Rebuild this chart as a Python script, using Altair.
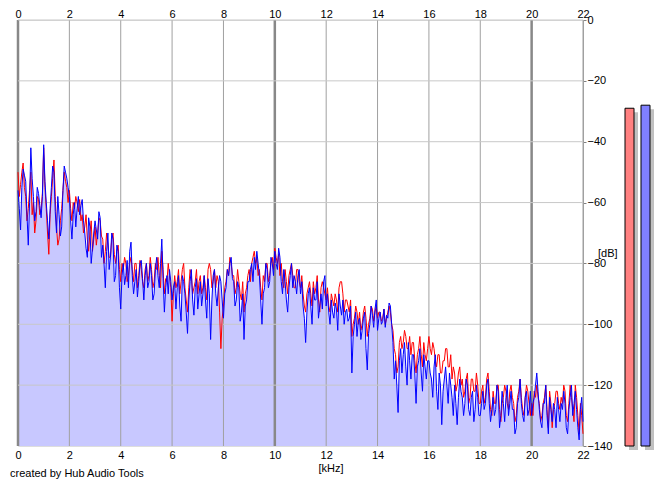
import altair as alt
import pandas as pd

# spectrum values in dB, one per 0.05 kHz bin (0.00 .. 22.00 kHz)
blue_db = (
    [-56, -62, -69, -55, -49, -51, -53, -64, -74, -60, -42, -52, -58, -66, -63, -55, -57, -61, -65, -58] +
    [-41, -53, -60, -66, -72, -62, -55, -48, -50, -63, -70, -58, -64, -71, -68, -56, -48, -50, -52, -55] +
    [-58, -66, -72, -64, -60, -68, -62, -58, -64, -61, -59, -66, -70, -75, -78, -65, -68, -80, -75, -70] +
    [-66, -69, -72, -63, -65, -78, -74, -80, -88, -76, -70, -82, -78, -70, -72, -86, -84, -74, -76, -88] +
    [-95, -84, -80, -87, -84, -79, -88, -76, -73, -84, -90, -86, -82, -91, -86, -80, -79, -85, -92, -84] +
    [-80, -88, -86, -80, -84, -92, -90, -82, -78, -84, -88, -80, -72, -85, -96, -88, -84, -90, -82, -86] +
    [-92, -88, -86, -95, -88, -84, -94, -99, -84, -86, -90, -96, -103, -92, -86, -82, -92, -97, -88, -85] +
    [-95, -90, -86, -94, -90, -84, -92, -98, -85, -90, -105, -92, -84, -82, -90, -94, -88, -84, -86, -92] +
    [-98, -90, -88, -82, -84, -80, -78, -85, -86, -94, -92, -86, -88, -99, -96, -90, -105, -94, -92, -86] +
    [-86, -82, -80, -86, -78, -82, -76, -80, -84, -92, -100, -90, -88, -80, -82, -88, -86, -78, -80, -84] +
    [-76, -80, -82, -75, -78, -86, -90, -82, -86, -92, -96, -88, -84, -80, -88, -84, -86, -90, -84, -82] +
    [-90, -86, -94, -98, -106, -96, -90, -88, -94, -100, -88, -92, -92, -86, -98, -94, -90, -95, -86, -84] +
    [-94, -90, -96, -100, -92, -96, -98, -93, -95, -102, -90, -94, -97, -92, -100, -96, -95, -99, -98, -94] +
    [-116, -104, -100, -96, -104, -99, -98, -105, -102, -98, -96, -108, -115, -103, -100, -94, -97, -101, -95, -92] +
    [-102, -98, -96, -100, -99, -95, -101, -97, -98, -93, -94, -100, -106, -118, -112, -120, -129, -112, -108, -116] +
    [-110, -106, -114, -120, -106, -112, -118, -110, -110, -116, -126, -114, -112, -108, -116, -122, -110, -114, -118, -112] +
    [-112, -116, -118, -124, -114, -110, -122, -128, -116, -120, -133, -122, -118, -114, -120, -126, -116, -120, -124, -130] +
    [-120, -126, -133, -124, -118, -122, -124, -130, -126, -118, -120, -128, -130, -124, -122, -132, -128, -120, -124, -130] +
    [-130, -126, -122, -128, -126, -120, -118, -126, -132, -128, -124, -130, -128, -120, -122, -134, -130, -122, -126, -132] +
    [-124, -120, -130, -126, -122, -128, -128, -136, -134, -126, -124, -118, -126, -130, -132, -124, -122, -130, -128, -122] +
    [-130, -126, -124, -120, -116, -122, -128, -132, -134, -126, -126, -120, -130, -136, -124, -128, -132, -126, -128, -134] +
    [-124, -128, -132, -126, -128, -122, -126, -134, -136, -128, -124, -120, -130, -126, -122, -128, -134, -138, -128, -124] +
    [-132]
)

red_db = (
    [-50, -58, -54, -50, -47, -55, -58, -66, -62, -56, -50, -64, -60, -70, -66, -58, -59, -64, -62, -57] +
    [-42, -55, -62, -70, -77, -64, -58, -52, -46, -58, -68, -74, -72, -66, -62, -56, -50, -53, -55, -60] +
    [-56, -62, -66, -60, -62, -58, -60, -63, -59, -66, -64, -70, -68, -64, -72, -76, -70, -66, -76, -72] +
    [-68, -74, -70, -65, -66, -71, -72, -80, -76, -70, -74, -78, -78, -72, -70, -77, -80, -76, -74, -82] +
    [-86, -80, -82, -78, -80, -86, -84, -80, -78, -82, -86, -80, -80, -88, -84, -79, -82, -86, -88, -82] +
    [-80, -86, -84, -78, -82, -88, -86, -80, -82, -78, -84, -88, -76, -82, -90, -85, -86, -80, -84, -88] +
    [-99, -90, -84, -88, -86, -82, -90, -86, -82, -80, -88, -92, -96, -88, -82, -84, -90, -88, -86, -82] +
    [-90, -86, -84, -90, -88, -84, -88, -92, -82, -80, -82, -88, -86, -82, -88, -84, -86, -96, -108, -98] +
    [-94, -88, -86, -82, -84, -78, -80, -84, -84, -90, -88, -82, -86, -90, -92, -86, -96, -90, -88, -84] +
    [-82, -86, -80, -78, -76, -80, -78, -84, -82, -88, -92, -84, -86, -80, -80, -86, -84, -80, -78, -82] +
    [-75, -78, -80, -77, -84, -80, -86, -88, -82, -86, -90, -84, -82, -80, -84, -88, -88, -82, -82, -86] +
    [-88, -84, -90, -94, -96, -90, -88, -86, -90, -94, -86, -90, -88, -84, -92, -96, -88, -86, -88, -90] +
    [-92, -88, -94, -96, -90, -92, -94, -90, -92, -96, -88, -86, -86, -90, -96, -92, -92, -94, -96, -92] +
    [-104, -100, -98, -94, -96, -100, -96, -102, -100, -96, -94, -98, -104, -100, -98, -94, -95, -99, -96, -94] +
    [-98, -96, -96, -99, -98, -95, -100, -98, -96, -94, -96, -100, -102, -108, -110, -116, -114, -106, -104, -108] +
    [-106, -102, -104, -108, -108, -104, -110, -106, -106, -112, -116, -110, -108, -104, -110, -114, -106, -110, -112, -108] +
    [-104, -108, -110, -106, -108, -112, -114, -110, -110, -116, -116, -112, -112, -108, -108, -114, -114, -110, -118, -114] +
    [-116, -122, -120, -116, -114, -120, -118, -124, -122, -118, -116, -126, -124, -118, -118, -122, -122, -116, -120, -126] +
    [-126, -122, -120, -126, -124, -118, -116, -122, -128, -130, -122, -126, -126, -120, -120, -128, -132, -126, -124, -120] +
    [-122, -126, -128, -122, -120, -124, -126, -132, -130, -124, -122, -118, -124, -128, -130, -124, -120, -122, -126, -130] +
    [-126, -130, -122, -124, -120, -124, -126, -132, -130, -126, -124, -120, -128, -134, -122, -126, -134, -128, -126, -122] +
    [-122, -126, -128, -124, -126, -120, -122, -130, -132, -126, -120, -124, -128, -132, -120, -124, -130, -136, -126, -130] +
    [-136]
)

assert len(blue_db) == len(red_db) == 441
khz = [round(i * 0.05, 2) for i in range(len(blue_db))]

x_ticks = [0, 2, 4, 6, 8, 10, 12, 14, 16, 18, 20, 22]
db_ticks = [0, -20, -40, -60, -80, -100, -120, -140]
grid_major = [0, 10, 20]
grid_minor = [2, 4, 6, 8, 12, 14, 16, 18, 22]
grid_db = [0, -20, -40, -60, -80, -100, -120]
meter_left_db = [-29]
meter_right_db = [-28]

FONT = "Liberation Sans"

spec = pd.DataFrame({"khz": khz, "blue": blue_db, "red": red_db})

xs = alt.Scale(domain=[0, 22], nice=False)
ys = alt.Scale(domain=[-140, 0], nice=False)

def xaxis(orient, pad):
    return alt.Axis(orient=orient, values=x_ticks, format="d", title=None,
                    domain=False, ticks=False, grid=False, labelPadding=pad,
                    labelFont=FONT, labelFontSize=11, labelColor="black",
                    labelFlush=False, labelOverlap=False)

yaxis = alt.Axis(orient="right", values=db_ticks, title=None, grid=False,
                 domainColor="#a0a0a0", tickColor="#808080", tickSize=3,
                 labelPadding=1, labelAlign="left", labelFont=FONT,
                 labelFontSize=11, labelColor="black", labelFlush=False,
                 labelOverlap=False)

def Y(field):
    return alt.Y(field, scale=ys, axis=yaxis)

area = alt.Chart(spec).mark_area(color="#c8c8ff", opacity=1).encode(
    x=alt.X("khz:Q", scale=xs, axis=xaxis("bottom", 3)),
    y=Y("blue:Q"),
    y2=alt.datum(-140),
)

hgrid = alt.Chart(pd.DataFrame({"db": grid_db})).mark_rule(
    color="#c8c8c8", strokeWidth=1).encode(y=Y("db:Q"))

vminor = alt.Chart(pd.DataFrame({"k": grid_minor})).mark_rule(
    color="#a0a0a0", strokeWidth=1).encode(
    x=alt.X("k:Q", scale=xs, axis=None))

vmajor = alt.Chart(pd.DataFrame({"k": grid_major})).mark_rule(
    color="#888888", strokeWidth=2.5).encode(
    x=alt.X("k:Q", scale=xs, axis=None))

red_line = alt.Chart(spec).mark_line(color="#ff0000", strokeWidth=1).encode(
    x=alt.X("khz:Q", scale=xs, axis=xaxis("top", 1)),
    y=Y("red:Q"),
)

blue_line = alt.Chart(spec).mark_line(color="#0000ff", strokeWidth=1).encode(
    x=alt.X("khz:Q", scale=xs, axis=None),
    y=Y("blue:Q"),
)

def meter(level, x0, fill):
    df = pd.DataFrame({"lvl": level})
    shadow = alt.Chart(df).mark_rect(color="#c0c0c0", xOffset=4, x2Offset=4,
                                      yOffset=4, y2Offset=4).encode(
        x=alt.value(x0), x2=alt.value(x0 + 9),
        y=Y("lvl:Q"), y2=alt.datum(-140))
    bar = alt.Chart(df).mark_rect(color=fill, stroke="black", strokeWidth=1).encode(
        x=alt.value(x0), x2=alt.value(x0 + 9),
        y=Y("lvl:Q"), y2=alt.datum(-140))
    return shadow + bar

def label(text, x, y, align="left"):
    return alt.Chart(pd.DataFrame({"t": [text]})).mark_text(
        font=FONT, fontSize=11, color="black", align=align, baseline="middle").encode(
        x=alt.value(x), y=alt.value(y), text="t:N")

chart = alt.layer(
    area, vminor, vmajor, hgrid, red_line, blue_line,
    meter(meter_left_db, 607, "#ff8080"),
    meter(meter_right_db, 623, "#8080ff"),
    label("created by Hub Audio Tools", -8, 454),
    label("[kHz]", 313, 449, "center"),
    label("[dB]", 580, 234),
).resolve_axis(x="independent").properties(
    width=565, height=426,
    autosize=alt.AutoSizeParams(type="none"),
    padding={"left": 10, "top": 12, "right": 74, "bottom": 34},
).configure_view(strokeWidth=0).configure(background="white")

chart.save("out.html", embed_options={"renderer": "svg", "actions": False})
